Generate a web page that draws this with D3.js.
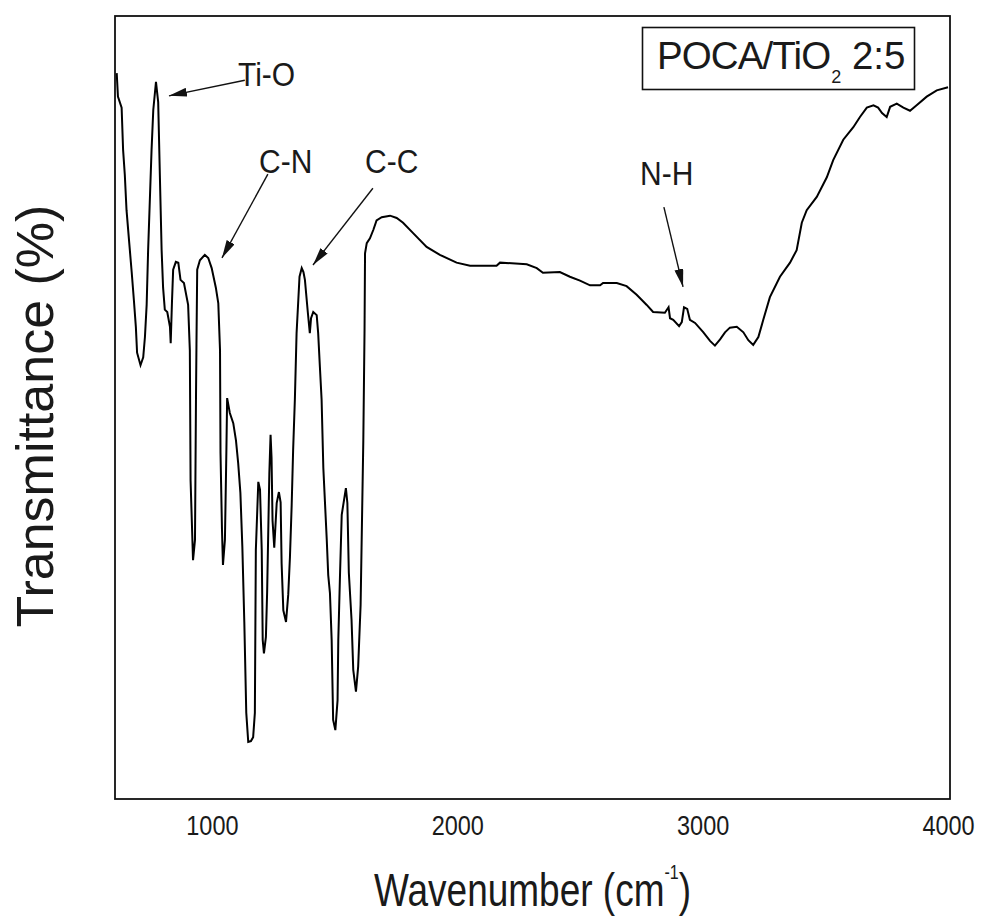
<!DOCTYPE html>
<html>
<head>
<meta charset="utf-8">
<script src="https://cdn.jsdelivr.net/npm/d3@7"></script>
<style>
  body { margin: 0; background: #fff; }
  text { font-family: "Liberation Sans", Arial, sans-serif; fill: #1a1a1a; }
</style>
</head>
<body>
<div id="chart"></div>
<script>
// spectrum (cm-1, transmittance on an arbitrary 0-100 scale)
const wavenumber = [
  612, 617, 632, 638, 645, 652, 662, 673, 682, 690,
  695, 709, 720, 727, 734, 740, 747, 754, 761, 772,
  781, 788, 795, 801, 808, 818, 829, 832, 837, 842,
  853, 863, 872, 886, 903, 910, 913, 923, 931, 935,
  937, 940, 951, 971, 985, 999, 1016, 1026, 1033, 1035,
  1041, 1045, 1053, 1059, 1062, 1073, 1087, 1098, 1107, 1116,
  1124, 1132, 1140, 1148, 1159, 1168, 1175, 1179, 1189, 1196,
  1203, 1207, 1212, 1220, 1225, 1234, 1239, 1243, 1247, 1254,
  1264, 1273, 1280, 1284, 1291, 1302, 1311, 1318, 1325, 1331,
  1338, 1345, 1352, 1357, 1366, 1373, 1379, 1391, 1399, 1404,
  1413, 1427, 1433, 1440, 1447, 1454, 1468, 1474, 1481, 1488,
  1494, 1503, 1512, 1515, 1522, 1529, 1546, 1552, 1558, 1569,
  1576, 1587, 1596, 1606, 1613, 1617, 1622, 1624, 1631, 1644,
  1658, 1671, 1692, 1726, 1753, 1779, 1819, 1875, 1929, 1997,
  2052, 2160, 2174, 2283, 2324, 2349, 2418, 2459, 2500, 2541,
  2582, 2594, 2650, 2690, 2731, 2772, 2798, 2846, 2861, 2867,
  2880, 2904, 2915, 2924, 2937, 2948, 2969, 3003, 3030, 3050,
  3071, 3091, 3111, 3139, 3166, 3186, 3206, 3227, 3247, 3274,
  3315, 3356, 3383, 3404, 3424, 3465, 3506, 3532, 3573, 3614,
  3641, 3669, 3696, 3715, 3731, 3750, 3764, 3791, 3818, 3845,
  3872, 3913, 3954, 4000
];

const transmittance = [
  92.7, 89.7, 88.3, 82.9, 79.7, 75.2, 71.4, 67.3, 63.7, 60.3,
  57.0, 55.4, 56.4, 59.0, 63.1, 70.1, 76.5, 82.9, 88.0, 91.6,
  89.0, 79.4, 70.1, 65.3, 62.5, 62.2, 60.3, 58.2, 63.3, 67.6,
  68.6, 68.5, 66.3, 65.9, 63.1, 57.3, 40.7, 30.5, 33.1, 51.0,
  58.0, 67.6, 68.8, 69.5, 69.1, 67.8, 65.3, 63.3, 57.3, 44.2,
  34.4, 29.9, 33.1, 44.6, 51.2, 49.3, 48.0, 45.8, 42.9, 39.1,
  32.2, 22.6, 11.0, 7.3, 7.4, 7.9, 11.0, 31.8, 40.5, 39.5,
  31.8, 20.3, 18.6, 20.7, 26.4, 41.6, 46.5, 43.6, 35.6, 32.1,
  37.8, 39.2, 37.9, 30.1, 24.1, 22.6, 26.1, 30.9, 37.5, 44.6,
  51.0, 59.5, 63.7, 66.7, 67.8, 67.3, 66.3, 62.1, 59.5, 61.4,
  62.2, 61.8, 59.5, 55.2, 51.0, 42.3, 33.1, 28.6, 26.3, 20.3,
  10.1, 8.8, 12.6, 20.3, 28.6, 36.3, 39.7, 37.8, 28.9, 22.9,
  16.5, 13.7, 16.9, 24.8, 38.2, 45.8, 59.9, 69.7, 71.0, 71.6,
  72.7, 73.9, 74.3, 74.5, 74.2, 73.6, 72.3, 70.5, 69.5, 68.5,
  68.1, 68.1, 68.5, 68.3, 67.8, 67.2, 67.3, 66.7, 66.2, 65.6,
  65.6, 65.9, 65.9, 65.5, 64.4, 63.1, 62.2, 62.1, 62.8, 61.4,
  61.2, 60.4, 60.9, 62.8, 62.6, 61.2, 60.8, 59.6, 58.5, 57.9,
  58.7, 59.6, 60.2, 60.3, 59.6, 58.6, 58.0, 59.0, 61.2, 64.1,
  66.7, 68.5, 70.1, 73.6, 75.2, 76.9, 79.4, 81.6, 84.2, 85.8,
  87.1, 88.3, 88.6, 88.3, 87.6, 87.1, 88.4, 88.8, 88.3, 87.9,
  88.6, 89.7, 90.5, 90.9
];

const tickValues = [1000, 2000, 3000, 4000];

// band annotations (data units)
const bandLabels = ["Ti-O", "C-N", "C-C", "N-H"];
const labelWn = [1106, 1192, 1624, 2745];
const labelT = [91.1, 79.9, 79.9, 78.4];
const arrowFromWn = [1134, 1228, 1656, 2842];
const arrowFromT = [91.8, 79.8, 78.0, 75.6];
const arrowTipWn = [825, 1041, 1412, 2920];
const arrowTipT = [89.8, 69.1, 68.2, 65.4];

const sampleName = "POCA/TiO";

const width = 981, height = 918;
const margin = { left: 115, right: 950, top: 16, bottom: 799 };

const svg = d3.select("#chart").append("svg")
    .attr("width", width)
    .attr("height", height);

const x = d3.scaleLinear().domain([605, 4008]).range([margin.left, margin.right]);
const y = d3.scaleLinear().domain([0, 100]).range([margin.bottom, margin.top]);

svg.append("defs").append("marker")
    .attr("id", "head")
    .attr("markerUnits", "userSpaceOnUse")
    .attr("viewBox", "0 0 18 9")
    .attr("markerWidth", 18)
    .attr("markerHeight", 9)
    .attr("refX", 18)
    .attr("refY", 4.5)
    .attr("orient", "auto")
    .append("path")
    .attr("d", "M0,0 L18,4.5 L0,9 Z")
    .attr("fill", "#111");

// frame
svg.append("rect")
    .attr("x", margin.left)
    .attr("y", margin.top)
    .attr("width", margin.right - margin.left)
    .attr("height", margin.bottom - margin.top)
    .attr("fill", "none")
    .attr("stroke", "#111")
    .attr("stroke-width", 1.8);

// x axis, labels only
const xAxis = svg.append("g")
    .attr("transform", `translate(0,${margin.bottom})`)
    .call(d3.axisBottom(x).tickValues(tickValues).tickSize(0).tickPadding(13).tickFormat(d3.format("d")));
xAxis.select(".domain").remove();
xAxis.selectAll("text")
    .style("font-size", "23.5px")
    .style("font-family", "'Liberation Sans', Arial, sans-serif")
    .attr("fill", "#2a2a2a")
    .attr("transform", "scale(1,1.2)");

// spectrum
const points = wavenumber.map((w, i) => [w, transmittance[i]]);
const line = d3.line()
    .x(d => x(d[0]))
    .y(d => y(d[1]));

svg.append("path")
    .datum(points)
    .attr("d", line)
    .attr("fill", "none")
    .attr("stroke", "#000")
    .attr("stroke-width", 2)
    .attr("stroke-linejoin", "miter");

// band arrows and labels
bandLabels.forEach((lab, i) => {
    svg.append("line")
        .attr("x1", x(arrowFromWn[i]))
        .attr("y1", y(arrowFromT[i]))
        .attr("x2", x(arrowTipWn[i]))
        .attr("y2", y(arrowTipT[i]))
        .attr("stroke", "#111")
        .attr("stroke-width", 1.4)
        .attr("marker-end", "url(#head)");

    svg.append("text")
        .attr("transform", `translate(${x(labelWn[i])},${y(labelT[i])}) scale(1,1.12)`)
        .style("font-size", "30px")
        .attr("fill", "#2a2a2a")
        .text(lab);
});

// sample box
svg.append("rect")
    .attr("x", 642.5)
    .attr("y", 27.5)
    .attr("width", 272)
    .attr("height", 62)
    .attr("fill", "#fff")
    .attr("stroke", "#111")
    .attr("stroke-width", 1.6);

const title = svg.append("text")
    .attr("x", 657)
    .attr("y", 68.5)
    .style("font-size", "38.5px")
    .attr("fill", "#111");
title.append("tspan").attr("letter-spacing", -0.9).text(sampleName);
title.append("tspan").attr("dx", 1).attr("dy", 14.5).style("font-size", "18px").text("2");
title.append("tspan").attr("dy", -14.5).text(" 2:5");

// axis titles
const xTitle = svg.append("text")
    .attr("transform", `translate(${(margin.left + margin.right) / 2},906) scale(1,1.25)`)
    .attr("text-anchor", "middle")
    .style("font-size", "37px")
    .attr("fill", "#111");
xTitle.append("tspan").text("Wavenumber (cm");
xTitle.append("tspan").attr("dy", -22).style("font-size", "16px").text("-1");
xTitle.append("tspan").attr("dy", 22).text(")");

svg.append("text")
    .attr("transform", "translate(52.7,416) rotate(-90)")
    .attr("text-anchor", "middle")
    .style("font-size", "52px")
    .attr("fill", "#111")
    .text("Transmittance (%)");
</script>
</body>
</html>
